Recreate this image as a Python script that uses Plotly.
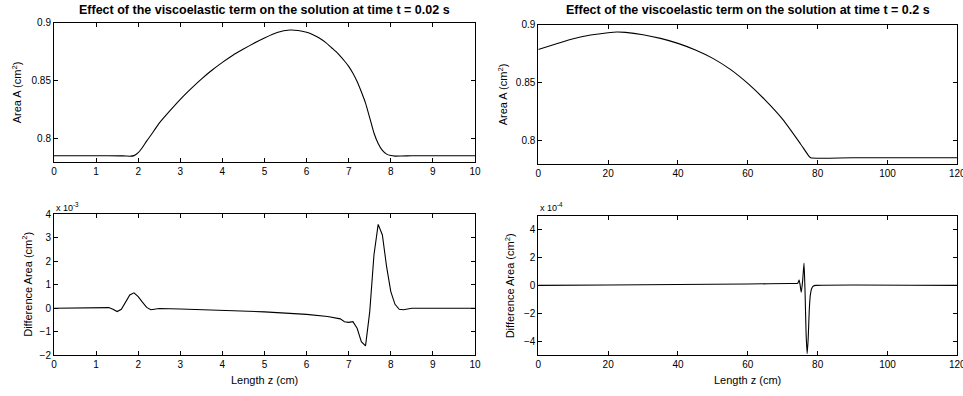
import plotly.graph_objects as go

W, H = 963, 396

# ---- data ----
z_tl = [0, 1.0, 1.6, 1.7, 1.8, 1.9, 2.0, 2.1, 2.2, 2.3, 2.4, 2.5, 2.75, 3.0, 3.25, 3.5, 3.75, 4.0, 4.25,
        4.5, 4.75, 5.0, 5.3, 5.6, 5.8, 6.0, 6.15, 6.3, 6.45, 6.6, 6.7, 6.8, 6.9, 7.0, 7.1, 7.2, 7.3, 7.4,
        7.5, 7.6, 7.7, 7.8, 7.9, 8.0, 8.1, 8.25, 8.5, 10]
a_tl = [0.7854, 0.7854, 0.7853, 0.7852, 0.7850, 0.7855, 0.7880, 0.7925, 0.7980, 0.8030, 0.8083, 0.8135,
        0.8240, 0.8340, 0.8430, 0.8514, 0.8590, 0.8658, 0.8720, 0.8773, 0.8823, 0.8868, 0.8915, 0.8937,
        0.8933, 0.8917, 0.8897, 0.8868, 0.8830, 0.8782, 0.8750, 0.8712, 0.8670, 0.8624, 0.8565, 0.8494,
        0.8405, 0.8307, 0.8180, 0.8050, 0.7960, 0.7900, 0.7868, 0.7856, 0.7851, 0.7852, 0.7854, 0.7854]

z_tr = [0, 5, 10, 15, 20, 22.5, 25, 30, 35, 40, 45, 50, 55, 60, 65, 70, 75, 77.5, 78, 90, 120]
a_tr = [0.8787, 0.8833, 0.8879, 0.8911, 0.8931, 0.8937, 0.8934, 0.8914, 0.8882, 0.8839, 0.8782, 0.8710,
        0.8615, 0.8494, 0.8350, 0.8184, 0.7977, 0.7868, 0.7854, 0.7854, 0.7854]

z_bl = [0, 1.2, 1.3, 1.4, 1.5, 1.6, 1.7, 1.8, 1.9, 2.0, 2.1, 2.2, 2.3, 2.5, 3.0, 4.0, 4.7, 5.0, 6.0, 6.5,
        6.8, 6.9, 7.0, 7.1, 7.2, 7.3, 7.4, 7.5, 7.6, 7.7, 7.8, 7.9, 8.0, 8.1, 8.2, 8.3, 8.5, 10]
d_bl_e3 = [0, 0, 0.03, -0.04, -0.14, -0.04, 0.26, 0.57, 0.66, 0.50, 0.26, 0.04, -0.06, -0.01, -0.03,
           -0.10, -0.14, -0.15, -0.26, -0.35, -0.45, -0.57, -0.60, -0.57, -0.85, -1.42, -1.60, -0.14,
           2.27, 3.57, 3.12, 1.77, 0.71, 0.17, -0.04, -0.06, 0.0, 0.0]

z_br = [0, 20, 40, 60, 72, 74.3, 74.7, 75.0, 75.3, 75.7, 76.1, 76.4, 76.7, 77.0, 77.3, 77.6, 77.9, 78.3,
        78.8, 79.5, 120]
d_br_e4 = [0, 0.03, 0.06, 0.10, 0.13, 0.15, 0.38, 0.0, -0.5, 0.3, 1.6, -0.5, -3.5, -4.9, -3.8, -1.8,
           -0.7, -0.22, -0.05, 0.0, 0.0]

titles = ["Effect of the viscoelastic term on the solution at time t = 0.02 s",
          "Effect of the viscoelastic term on the solution at time t = 0.2 s"]

# ---- layout helpers (pixel boxes) ----
def xd(l, r):
    return [l / W, r / W]

def yd(t, b):
    return [1 - b / H, 1 - t / H]

boxes = {
    1: (54, 475, 22.7, 162),
    2: (538.3, 957.3, 24.7, 164),
    3: (54, 475, 214.3, 355.3),
    4: (538.3, 957.3, 215.7, 355),
}

FONT = "Liberation Sans, Arial, Helvetica, sans-serif"
LINE = dict(color="black", width=1.1)

fig = go.Figure()
fig.add_trace(go.Scatter(x=z_tl, y=a_tl, mode="lines", line=dict(shape="spline", smoothing=0.4, **LINE),
                         xaxis="x", yaxis="y"))
fig.add_trace(go.Scatter(x=z_tr, y=a_tr, mode="lines", line=dict(shape="spline", smoothing=0.6, **LINE),
                         xaxis="x2", yaxis="y2"))
fig.add_trace(go.Scatter(x=z_bl, y=d_bl_e3, mode="lines", line=LINE, xaxis="x3", yaxis="y3"))
fig.add_trace(go.Scatter(x=z_br, y=d_br_e4, mode="lines", line=dict(shape="spline", smoothing=0.5, **LINE),
                         xaxis="x4", yaxis="y4"))

axis_common = dict(showline=True, linecolor="black", linewidth=1, mirror="ticks", ticks="inside",
                   ticklen=4, tickcolor="black", showgrid=False, zeroline=False, automargin=False,
                   ticklabeloverflow="allow",
                   tickfont=dict(family=FONT, size=10, color="black"), fixedrange=True)

xranges = {1: [0, 10], 2: [0, 120], 3: [0, 10], 4: [0, 120]}
xticks = {1: list(range(0, 11)), 2: list(range(0, 121, 20)), 3: list(range(0, 11)), 4: list(range(0, 121, 20))}
yranges = {1: [0.78, 0.9], 2: [0.78, 0.9], 3: [-2, 4], 4: [-5, 5]}
yticks = {1: [0.8, 0.85, 0.9], 2: [0.8, 0.85, 0.9], 3: [-2, -1, 0, 1, 2, 3, 4], 4: [-4, -2, 0, 2, 4]}
yticktext = {1: ["0.8", "0.85", "0.9"], 2: ["0.8", "0.85", "0.9"],
             3: ["\u22122", "\u22121", "0", "1", "2", "3", "4"], 4: ["\u22124", "\u22122", "0", "2", "4"]}

layout = dict(width=W, height=H, margin=dict(l=0, r=0, t=0, b=0, autoexpand=False), showlegend=False,
              plot_bgcolor="white", paper_bgcolor="white", font=dict(family=FONT, color="black"))
for i in range(1, 5):
    l, r, t, b = boxes[i]
    sx = "" if i == 1 else str(i)
    layout["xaxis" + sx] = dict(domain=xd(l, r), range=xranges[i], tickvals=xticks[i],
                                anchor="y" + sx, **axis_common)
    layout["yaxis" + sx] = dict(domain=yd(t, b), range=yranges[i], tickvals=yticks[i],
                                ticktext=yticktext[i], anchor="x" + sx, **axis_common)
fig.update_layout(**layout)

ann = []
# titles
for i, tx in zip([1, 2], titles):
    l, r, t, b = boxes[i]
    ann.append(dict(text="<b>" + tx + "</b>", x=(l + r) / 2 / W, y=1 - 10 / H, xref="paper", yref="paper",
                    xanchor="center", yanchor="middle", showarrow=False,
                    font=dict(family=FONT, size=12.5, color="black")))
# y axis titles
ytitle_x = {1: 17, 2: 503, 3: 27, 4: 510}
ytitles = {1: "Area A (cm<sup>2</sup>)", 2: "Area A (cm<sup>2</sup>)",
           3: "Difference Area (cm<sup>2</sup>)", 4: "Difference Area (cm<sup>2</sup>)"}
for i in range(1, 5):
    l, r, t, b = boxes[i]
    ann.append(dict(text=ytitles[i], x=ytitle_x[i] / W, y=1 - (t + b) / 2 / H, xref="paper", yref="paper",
                    xanchor="center", yanchor="middle", textangle=-90, showarrow=False,
                    font=dict(family=FONT, size=11, color="black")))
# x axis titles
for i in [3, 4]:
    l, r, t, b = boxes[i]
    ann.append(dict(text="Length z (cm)", x=(l + r) / 2 / W, y=1 - 380 / H, xref="paper", yref="paper",
                    xanchor="center", yanchor="middle", showarrow=False,
                    font=dict(family=FONT, size=11, color="black")))
# exponent labels
for i, ex in [(3, "-3"), (4, "-4")]:
    l, r, t, b = boxes[i]
    ann.append(dict(text="x 10<sup>" + ex + "</sup>", x=l / W, y=1 - 207 / H, xref="paper", yref="paper",
                    xanchor="left", yanchor="middle", showarrow=False,
                    font=dict(family=FONT, size=9, color="black")))
fig.update_layout(annotations=ann)

fig.write_html("out.html")
